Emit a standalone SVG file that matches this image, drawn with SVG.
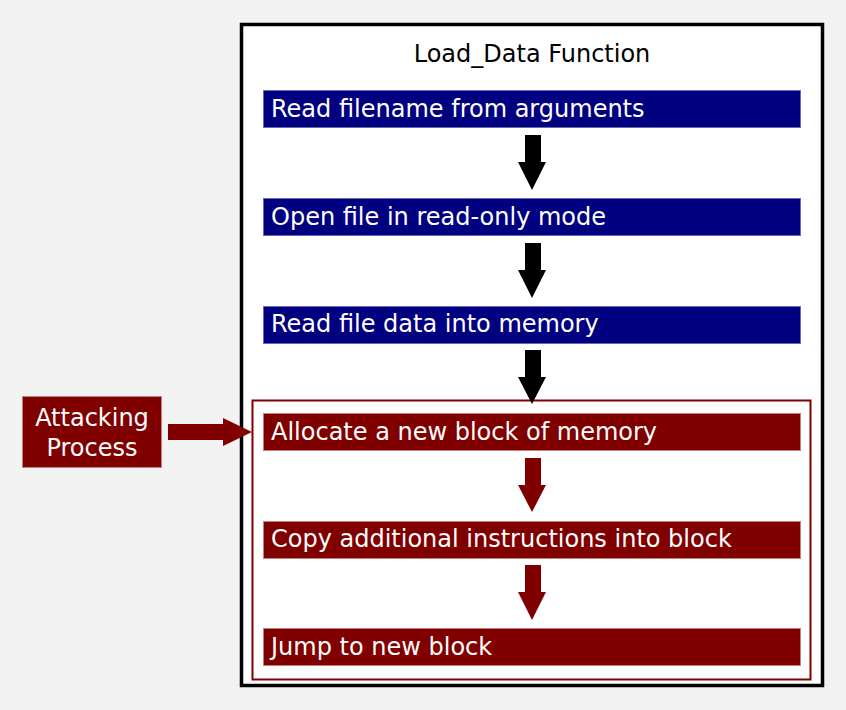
<svg xmlns="http://www.w3.org/2000/svg" width="846" height="710" viewBox="0 0 846 710">
<style>
text{font-family:"DejaVu Sans",Verdana,sans-serif;font-size:24px}
.bar text{fill:#ffffff}
.blue rect{fill:#000080;stroke:#6a6ab0;stroke-width:1}
.red rect{fill:#800000;stroke:#c08080;stroke-width:1}
.ab{fill:#000000}
.ar{fill:#800000}
</style>
<rect x="0" y="0" width="846" height="710" fill="#f2f2f2"/>
<g id="load_data">
<rect x="241.5" y="24.5" width="581" height="661" fill="#ffffff" stroke="#000000" stroke-width="3.5"/>
<text x="532" y="62" text-anchor="middle" fill="#000000">Load_Data Function</text>
</g>
<g id="injected_region">
<rect x="252.5" y="400.5" width="558" height="279" fill="none" stroke="#800000" stroke-width="2"/>
</g>
<g id="step1" class="bar blue"><rect x="263.5" y="90.5" width="537" height="37"/><text x="271" y="117">Read filename from arguments</text></g>
<g id="step2" class="bar blue"><rect x="263.5" y="198.5" width="537" height="37"/><text x="271" y="225">Open file in read-only mode</text></g>
<g id="step3" class="bar blue"><rect x="263.5" y="306.5" width="537" height="37"/><text x="271" y="332">Read file data into memory</text></g>
<g id="step4" class="bar red"><rect x="263.5" y="413.5" width="537" height="37"/><text x="271" y="440">Allocate a new block of memory</text></g>
<g id="step5" class="bar red"><rect x="263.5" y="521.5" width="537" height="37"/><text x="271" y="547">Copy additional instructions into block</text></g>
<g id="step6" class="bar red"><rect x="263.5" y="628.5" width="537" height="37"/><text x="271" y="655">Jump to new block</text></g>
<g id="attacker" class="bar red"><rect x="22.5" y="396.5" width="139" height="71"/><text x="92" y="426" text-anchor="middle">Attacking</text><text x="92" y="456" text-anchor="middle">Process</text></g>
<g id="connectors">
<polygon class="ab" points="525,135 541,135 541,162 546,162 532,190 518,162 525,162"/>
<polygon class="ab" points="525,243 541,243 541,270 546,270 532,298 518,270 525,270"/>
<polygon class="ab" points="525,350 541,350 541,377 546,377 532,404 518,377 525,377"/>
<polygon class="ar" points="525,458 541,458 541,485 546,485 532,512 518,485 525,485"/>
<polygon class="ar" points="525,565 541,565 541,592 546,592 532,620 518,592 525,592"/>
<polygon class="ar" points="168,424 223,424 223,418 252,432 223,446 223,440 168,440"/>
</g>
</svg>
